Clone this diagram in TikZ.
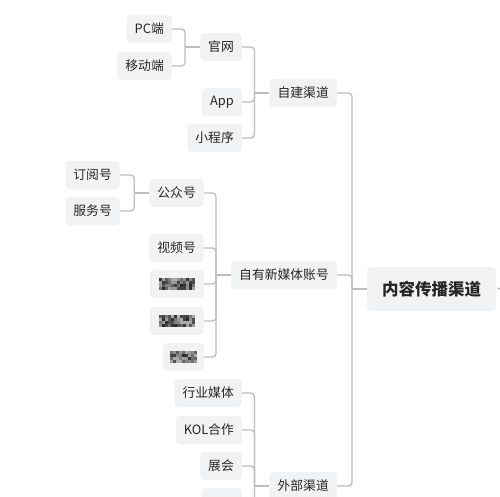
\documentclass[tikz,border=0pt]{standalone}
\usepackage{fontspec}
\setmainfont{Noto Sans CJK SC}
\usetikzlibrary{calc}
\definecolor{boxfill}{HTML}{F1F2F4}
\definecolor{txt}{HTML}{262626}
\definecolor{linec}{HTML}{BDBDBD}
\newcommand\mosaic[2]{%
  \pgfmathtruncatemacro\mosN{#2/3-1}%
  \foreach \i in {0,...,\mosN}{\foreach \j in {0,1,2,3}{%
     \pgfmathsetmacro\g{int(30+rnd*55)}%
     \fill[black!\g!white] ($(#1.center)+(-#2/2+3*\i,-6+3*\j)$) rectangle ++(3,3);}}}
\begin{document}
\begin{tikzpicture}[x=1pt,y=-1pt,
  item/.style={fill=boxfill, rounded corners=4pt, minimum height=28pt, inner xsep=8pt, inner ysep=0pt,
    text=txt, font=\fontsize{12.8}{14}\selectfont, anchor=east},
  conn/.style={draw=linec, line width=1.3pt, rounded corners=3.5pt}]
\useasboundingbox (0,0) rectangle (500,497);
\clip (0,0) rectangle (500,497);
\fill[white] (0,0) rectangle (500,497);
\pgfmathsetseed{7}
% level 3
\node[item] (pc) at (172,29) {PC端};
\node[item] (mob) at (172,66) {移动端};
\node[item] (dy) at (120,175) {订阅号};
\node[item] (fw) at (120,211) {服务号};
% level 2
\node[item] (gw) at (242,47) {官网};
\node[item] (app) at (242,102) {App};
\node[item] (xcx) at (242,138) {小程序};
\node[item] (gzh) at (204,193) {公众号};
\node[item] (sph) at (204,248) {视频号};
\node[item, minimum width=54pt] (b1) at (204,284) {};
\node[item, minimum width=54pt] (b2) at (204,321) {};
\node[item, minimum width=41pt] (b3) at (204,357) {};
\node[item] (hy) at (242,393) {行业媒体};
\node[item] (kol) at (242,430) {KOL合作};
\node[item] (zh) at (242,466) {展会};
\node[item, minimum width=40pt] (x4) at (242,502) {};
% level 1
\node[item] (zj) at (337,93) {自建渠道};
\node[item] (zy) at (337,275) {自有新媒体账号};
\node[item] (wb) at (337,486) {外部渠道};
% root
\node[item, anchor=west, minimum width=129pt, minimum height=44pt,
  font=\fontsize{16.5}{18}\selectfont\bfseries] (root) at (367,289) {内容传播渠道};
% mosaics
\mosaic{b1}{36}
\mosaic{b2}{36}
\mosaic{b3}{27}
% connectors
\foreach \c/\p in {pc/gw, mob/gw, gw/zj, app/zj, xcx/zj, dy/gzh, fw/gzh,
  gzh/zy, sph/zy, b1/zy, b2/zy, b3/zy, hy/wb, kol/wb, zh/wb, x4/wb,
  zj/root, zy/root, wb/root}
  \draw[conn] (\c.east) -| ([xshift=-15pt]\p.west);
\foreach \p in {gw, gzh, zj, zy, wb, root}
  \draw[conn] ([xshift=-15pt]\p.west) -- (\p.west);
\draw[conn] ([xshift=1pt]root.east) arc[start angle=90, end angle=20, radius=6];
\end{tikzpicture}
\end{document}
